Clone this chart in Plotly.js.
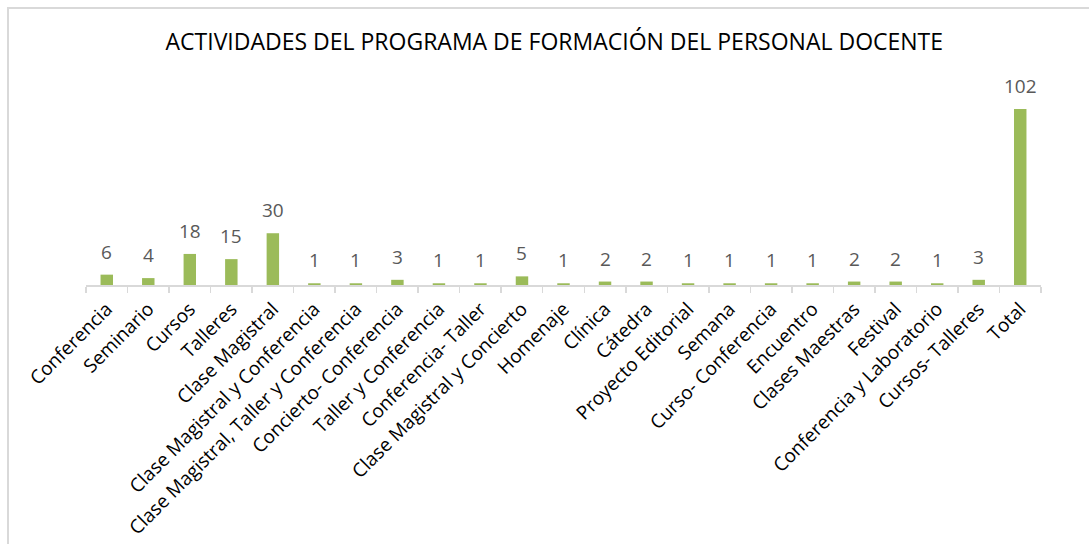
<!DOCTYPE html>
<html>
<head>
<meta charset="utf-8">
<script src="https://cdn.plot.ly/plotly-3.0.1.min.js"></script>
<style>
html, body { margin: 0; padding: 0; background: #fff; }
#frame { position: absolute; left: 7px; top: 7px; width: 1082px; height: 537px; border-left: 2px solid #d9d9d9; border-top: 2px solid #d9d9d9; box-sizing: border-box; }
#chart { position: absolute; left: 0; top: 0; width: 1089px; height: 544px; }
</style>
</head>
<body>
<div id="frame"></div>
<div id="chart"></div>
<script>
const categories = [
  "Conferencia", "Seminario", "Cursos", "Talleres", "Clase Magistral",
  "Clase Magistral y Conferencia", "Clase Magistral, Taller y Conferencia",
  "Concierto- Conferencia", "Taller y Conferencia", "Conferencia- Taller",
  "Clase Magistral y Concierto", "Homenaje", "Clínica", "Cátedra",
  "Proyecto Editorial", "Semana", "Curso- Conferencia", "Encuentro",
  "Clases Maestras", "Festival", "Conferencia y Laboratorio", "Cursos- Talleres", "Total"
];
const values = [6, 4, 18, 15, 30, 1, 1, 3, 1, 1, 5, 1, 2, 2, 1, 1, 1, 1, 2, 2, 1, 3, 102];
const chartTitle = "ACTIVIDADES DEL PROGRAMA DE FORMACIÓN DEL PERSONAL DOCENTE";

const trace = {
  type: "bar",
  x: categories,
  y: values,
  marker: { color: "#9BBB59" },
  hoverinfo: "x+y"
};

const annotations = categories.map((c, i) => ({
  x: c, y: values[i], xref: "x", yref: "y",
  text: String(values[i]), showarrow: false,
  yanchor: "bottom", yshift: 8,
  font: { family: "Open Sans, Noto Sans, sans-serif", size: 19, color: "#595959" }
}));

const layout = {
  width: 1089, height: 544,
  paper_bgcolor: "rgba(0,0,0,0)",
  plot_bgcolor: "rgba(0,0,0,0)",
  margin: { l: 86, r: 48, t: 75, b: 259 },
  bargap: 0.7,
  showlegend: false,
  title: {
    text: chartTitle,
    x: 0.509, xanchor: "center", y: 0.922, yanchor: "middle",
    font: { family: "Open Sans, Noto Sans, sans-serif", size: 23, color: "#000" }
  },
  xaxis: {
    type: "category",
    tickangle: -45,
    tickson: "boundaries",
    ticks: "outside", ticklen: 6, tickcolor: "#d9d9d9", tickwidth: 1.5,
    showline: true, linecolor: "#d9d9d9", linewidth: 1.5,
    showgrid: false,
    ticklabelstandoff: 4,
    tickfont: { family: "Open Sans, Noto Sans, sans-serif", size: 19, color: "#000" }
  },
  yaxis: {
    range: [0, 121.7],
    visible: false, showgrid: false, zeroline: false
  },
  annotations: annotations
};

Plotly.newPlot("chart", [trace], layout, { displayModeBar: false, staticPlot: true });
</script>
</body>
</html>
